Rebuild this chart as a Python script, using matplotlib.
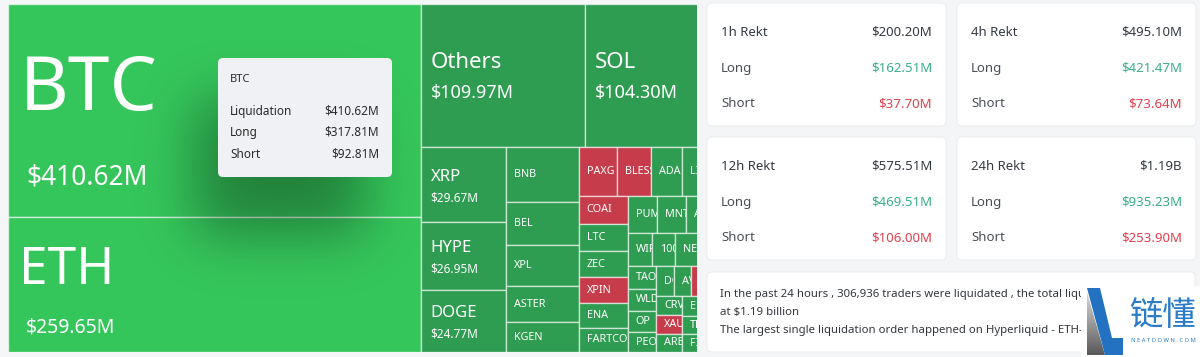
import math
import numpy as np
import matplotlib
matplotlib.use("Agg")
import matplotlib.pyplot as plt
from matplotlib.patches import Rectangle, FancyBboxPatch, Polygon
from matplotlib.transforms import Bbox, TransformedBbox

plt.rcParams['font.family'] = ['Noto Sans', 'DejaVu Sans']

# 24h liquidations by coin, $M (small ones)
coins = ["BTC", "ETH", "Others", "SOL", "XRP", "HYPE", "DOGE",
         "BNB", "BEL", "XPL", "ASTER", "KGEN",
         "PAXG", "BLESS", "ADA", "LINK", "SUI",
         "COAI", "LTC", "ZEC", "XPIN", "ENA", "FARTCOIN",
         "PUMP", "MNT", "AVNT", "BCH",
         "WIF", "1000PEPE", "NEAR", "AAVE", "ONDO",
         "TAO", "WLD", "OP", "PEOPLE",
         "DOT", "AVAX", "MYX", "UNI", "TIA",
         "CRV", "XAUT", "ARB",
         "ENS", "TRUMP", "FIL", "APT", "LDO", "SEI", "INJ", "JUP", "PENGU"]
liq_values = [410.62, 259.65, 109.97, 104.30, 29.67, 26.95, 24.77,
              18.6, 14.5, 13.9, 12.2, 10.1,
              8.7, 7.6, 6.9, 6.7, 6.6,
              6.55, 6.2, 6.0, 6.0, 5.6, 5.6,
              5.2, 5.1, 4.9, 4.75,
              3.7, 3.55, 3.45, 3.35, 3.25,
              3.0, 2.95, 2.9, 2.6,
              2.45, 2.45, 2.4, 2.35, 2.3,
              2.25, 2.25, 2.2,
              2.1, 2.0, 1.9, 1.8, 1.7, 1.6, 1.5, 1.4, 1.3]
short_heavy = ["PAXG", "BLESS", "COAI", "XPIN", "XAUT", "MYX"]

# tooltip for BTC
btc_long = 317.81
btc_short = 92.81

# rekt cards
periods = ["1h", "4h", "12h", "24h"]
rekt_total = [200.20, 495.10, 575.51, 1190.0]
rekt_long = [162.51, 421.47, 469.51, 935.23]
rekt_short = [37.70, 73.64, 106.00, 253.90]

summary_lines = [
    "In the past 24 hours , 306,936 traders were liquidated , the total liquidation comes in",
    "at $1.19 billion",
    "The largest single liquidation order happened on Hyperliquid - ETH-USD",
]

GREEN_BIG = "#35c65b"
GREEN = "#2e9c51"
RED = "#c63c4b"
LONG_C = "#38ae8a"
SHORT_C = "#e2404e"
DARK = "#363b43"
GREY_T = "#4b5058"


def fmt_usd(v):
    if v >= 1000:
        return f"${v / 1000:.2f}B"
    return f"${v:,.2f}M"


def worst(areas, fixed, ratio):
    s = sum(areas)
    f = fixed * fixed * ratio
    return max(f * max(areas) / (s * s), s * s / (f * min(areas)))


def place(row, fixed, rect, flush):
    # lay a strip along the shorter side of the free rectangle
    x, y, w, h = rect
    area = sum(a for _, a in row)
    out = []
    if fixed == w:
        th = area / fixed
        if flush or th > h:
            th = h
        cx = x
        for k, a in row:
            out.append((k, (cx, y, a / th, th)))
            cx += a / th
        rect[:] = [x, y + th, w, h - th]
    else:
        tw = area / fixed
        if flush or tw > w:
            tw = w
        cy = y
        for k, a in row:
            out.append((k, (x, cy, tw, a / tw)))
            cy += a / tw
        rect[:] = [x + tw, y, w - tw, h]
    return out


def squarify(values, w, h, ratio=0.5 * (1 + math.sqrt(5))):
    order = sorted(range(len(values)), key=lambda i: -values[i])
    scale = w * h / sum(values)
    rect = [0.0, 0.0, w, h]
    res = {}
    row = []
    best = math.inf
    fixed = min(w, h)
    i = 0
    while i < len(order):
        k = order[i]
        row.append((k, values[k] * scale))
        score = worst([a for _, a in row], fixed, ratio)
        if score <= best:
            best = score
            i += 1
        else:
            row.pop()
            res.update(place(row, fixed, rect, False))
            fixed = min(rect[2], rect[3])
            row = []
            best = math.inf
    if row:
        res.update(place(row, fixed, rect, True))
    return res


def label_style(v):
    if v > 300:
        return dict(nfs=54, vfs=19, ndy=-20, vdy=67, pad=12, vpad=18)
    if v > 200:
        return dict(nfs=37, vfs=14, ndy=-14, vdy=43, pad=11, vpad=18)
    if v > 100:
        return dict(nfs=16, vfs=13, ndy=-13.5, vdy=17, pad=10, vpad=10)
    if v > 20:
        return dict(nfs=12, vfs=8.5, ndy=-8, vdy=13.5, pad=10, vpad=10)
    return dict(nfs=7.8, vfs=None, ndy=0, vdy=0, pad=8, vpad=8)


fig = plt.figure(figsize=(12, 3.57), dpi=100)
fig.patch.set_facecolor("#f5f6f8")

# treemap (its right part sits under the cards panel)
TW, TH = 733, 348
VISIBLE_W = 689
ax = fig.add_axes([8 / 1200, 5 / 357, TW / 1200, TH / 357])
ax.set_xlim(0, TW)
ax.set_ylim(TH, 0)
ax.axis("off")
layout = squarify(liq_values, TW, TH)
for k, (x, y, w, h) in layout.items():
    name, val = coins[k], liq_values[k]
    if name in short_heavy:
        fc = RED
    elif val > 200:
        fc = GREEN_BIG
    else:
        fc = GREEN
    cell = Rectangle((x, y), w, h, facecolor=fc, edgecolor=(1, 1, 1, 0.6), lw=1.0)
    ax.add_patch(cell)
    if x + 4 >= VISIBLE_W:
        continue
    clip = TransformedBbox(Bbox([[x + 0.5, y + 0.5],
                                 [min(x + w, VISIBLE_W) - 0.5, y + h - 0.5]]), ax.transData)
    st = label_style(val)
    cy = y + h / 2
    t = ax.text(x + st['pad'], cy + st['ndy'], name, color="white", fontsize=st['nfs'],
                ha="left", va="center", fontweight="medium" if val < 20 else "normal")
    t.set_clip_box(clip)
    t.set_clip_on(True)
    if st['vfs']:
        t2 = ax.text(x + st['vpad'], cy + st['vdy'], fmt_usd(val), color="white",
                     fontsize=st['vfs'], ha="left", va="center", fontweight="medium")
        t2.set_clip_box(clip)
        t2.set_clip_on(True)

# overlay in pixel coordinates
ov = fig.add_axes([0, 0, 1, 1])
ov.set_zorder(3)
ov.patch.set_alpha(0)
ov.set_xlim(0, 1200)
ov.set_ylim(357, 0)
ov.axis("off")

# tooltip shadow
sx = np.arange(120, 480)
sy = np.arange(40, 330)
s = 28 * math.sqrt(2)
erf = np.vectorize(math.erf)
fx = 0.5 * (erf((sx - 195) / s) - erf((sx - 365) / s))
fy = 0.5 * (erf((sy - 100) / s) - erf((sy - 235) / s))
shadow = np.zeros((len(sy), len(sx), 4))
shadow[..., 3] = 0.34 * np.outer(fy, fx)
ov.imshow(shadow, extent=(sx[0], sx[-1], sy[-1], sy[0]), interpolation="bilinear",
          aspect="auto", zorder=1)

# tooltip
ov.add_patch(FancyBboxPatch((218, 58), 174, 119, boxstyle="round,pad=0,rounding_size=5",
                            fc="#f0f1f4", ec="none", zorder=2))
ov.text(230, 80, "BTC", fontsize=8, color="#2b2b2b", va="center", zorder=3)
tip_rows = [("Liquidation", liq_values[0]), ("Long", btc_long), ("Short", btc_short)]
for j, (lab, v) in enumerate(tip_rows):
    yy = 111 + j * 21.5
    ov.text(230, yy, lab, fontsize=8.5, color="#2b2b2b", va="center", zorder=3)
    ov.text(379, yy, fmt_usd(v), fontsize=8.5, color="#2b2b2b", va="center", ha="right", zorder=3)

# right panel
ov.add_patch(Rectangle((697, 0), 503, 357, fc="#f4f5f7", ec="none", zorder=4))
card_pos = [(707, 3), (957, 3), (707, 137), (957, 137)]
for (cx, cy), p, tot, lg, sh in zip(card_pos, periods, rekt_total, rekt_long, rekt_short):
    ov.add_patch(FancyBboxPatch((cx, cy), 239, 123, boxstyle="round,pad=0,rounding_size=5",
                                fc="white", ec="#e9eaec", lw=0.6, zorder=5))
    ov.text(cx + 14, cy + 29.5, f"{p} Rekt", fontsize=9.5, color=DARK, fontweight="bold",
            va="center", zorder=6)
    ov.text(cx + 225, cy + 29.5, fmt_usd(tot), fontsize=9.5, color=DARK, va="center",
            ha="right", zorder=6)
    ov.text(cx + 14, cy + 65.5, "Long", fontsize=9.5, color=GREY_T, va="center", zorder=6)
    ov.text(cx + 225, cy + 65.5, fmt_usd(lg), fontsize=9.5, color=LONG_C, va="center",
            ha="right", zorder=6)
    ov.text(cx + 14, cy + 100.5, "Short", fontsize=9.5, color=GREY_T, va="center", zorder=6)
    ov.text(cx + 225, cy + 100.5, fmt_usd(sh), fontsize=9.5, color=SHORT_C, va="center",
            ha="right", zorder=6)

ov.add_patch(FancyBboxPatch((707, 272), 488, 80, boxstyle="round,pad=0,rounding_size=5",
                            fc="white", ec="#e9eaec", lw=0.6, zorder=5))
for j, line in enumerate(summary_lines):
    ov.text(720, 295 + j * 18, line, fontsize=8.2, color="#33373d", va="center", zorder=6)

# watermark logo
ov.add_patch(Rectangle((1081, 286), 119, 71, fc="white", ec="none", zorder=7))
tri = Polygon([(1087, 292), (1087, 355), (1105, 355)], closed=True, fc="none", ec="none", zorder=8)
ov.add_patch(tri)
grad = np.linspace(0.85, 0.35, 64)[:, None] * np.ones((1, 4))
gimg = ov.imshow(grad, cmap="gray", vmin=0, vmax=1, extent=(1087, 1105, 355, 292),
                 aspect="auto", zorder=8)
gimg.set_clip_path(tri)
ov.add_patch(Polygon([(1087, 288), (1100, 288), (1112, 338), (1123, 338), (1123, 355), (1105, 355)],
                     closed=True, fc="#2372c2", ec="none", zorder=9))
ov.text(1162, 315, "链懂", fontsize=24, color="#2a7bc8", ha="center", va="center",
        family=["Noto Sans CJK SC", "DejaVu Sans"], zorder=9)
ov.text(1163, 341, "N E A T D O W N . C O M", fontsize=4.2, color="#2a7bc8", ha="center",
        va="center", fontweight="bold", zorder=9)

fig.savefig("out.png", dpi=100, facecolor=fig.get_facecolor())
